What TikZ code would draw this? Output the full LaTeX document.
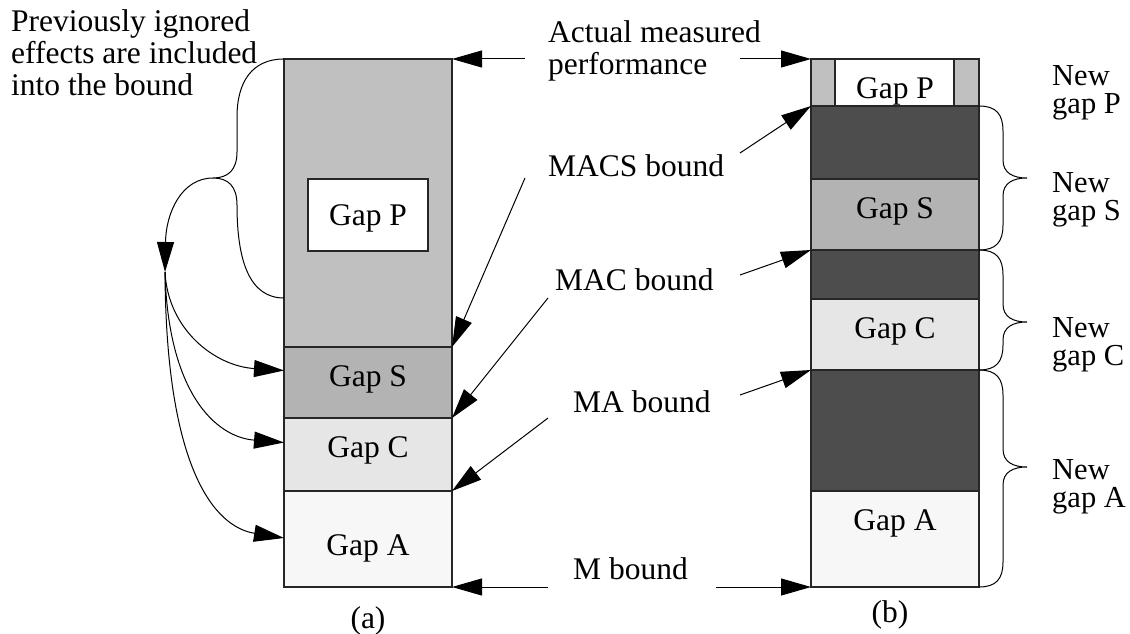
\documentclass[tikz,border=0pt]{standalone}
\usepackage{fontspec}
\setmainfont{Liberation Serif}
\usetikzlibrary{arrows.meta}
\definecolor{gP}{HTML}{C0C0C0}
\definecolor{gS}{HTML}{B3B3B3}
\definecolor{gC}{HTML}{E6E6E6}
\definecolor{gA}{HTML}{F7F7F7}
\definecolor{dk}{HTML}{4D4D4D}
\newcommand{\myrbrc}[3]{%
  \draw[brc] (979,#1) .. controls (996,#1) and (1003,#1+8) .. (1003,#1+25) -- (1003,#2-18) .. controls (1003,#2-5) and (1013,#2) .. (1027,#2) .. controls (1013,#2) and (1003,#2+5) .. (1003,#2+18) -- (1003,#3-25) .. controls (1003,#3-8) and (996,#3) .. (979,#3);}
\begin{document}
\begin{tikzpicture}[x=1pt,y=-1pt,
  txt/.style={inner sep=0pt, font=\fontsize{31.5}{31.5}\selectfont},
  rtxt/.style={inner sep=0pt, font=\fontsize{30.5}{27}\selectfont},
  seg/.style={draw=black!85, line width=1.2pt, minimum width=168pt, inner sep=0pt, outer sep=0pt},
  arr/.style={line width=1pt, -{Triangle[length=30pt,width=17pt]}},
  brc/.style={line width=1pt}]
\useasboundingbox (0,0) rectangle (1130,634);

% ---------- column (a)
\node[seg, fill=gP, minimum height=288pt] (aT) at (368,203) {};
\node[seg, fill=gS, minimum height=71pt] (aS) at (368,382.5) {};
\node[seg, fill=gC, minimum height=73pt] (aC) at (368,454.5) {};
\node[seg, fill=gA, minimum height=96pt] (aA) at (368,539) {};
\node[draw=black!85, line width=1.2pt, fill=white, minimum width=120pt, minimum height=72pt, inner sep=0pt] (aPb) at (368,215) {};
\node[txt, anchor=base] (laP) at (368,225) {Gap P};
\node[txt, anchor=base] (laS) at (368,386) {Gap S};
\node[txt, anchor=base] (laC) at (368,457) {Gap C};
\node[txt, anchor=base] (laA) at (368,555) {Gap A};
\node[txt, anchor=base] (capa) at (368,628) {(a)};

% ---------- column (b)
\node[seg, fill=gP, minimum height=47pt] (bP) at (895,82.5) {};
\node[draw=black!85, line width=1.2pt, fill=white, minimum width=119pt, minimum height=47pt, inner sep=0pt] (bPw) at (894.5,82.5) {};
\node[seg, fill=dk, minimum height=73pt] (bD1) at (895,142.5) {};
\node[seg, fill=gS, minimum height=71pt] (bS) at (895,214.5) {};
\node[seg, fill=dk, minimum height=49pt] (bD2) at (895,274.5) {};
\node[seg, fill=gC, minimum height=71pt] (bC) at (895,334.5) {};
\node[seg, fill=dk, minimum height=121pt] (bD3) at (895,430.5) {};
\node[seg, fill=gA, minimum height=96pt] (bA) at (895,539) {};
\node[txt, anchor=base] (lbP) at (895,99) {Gap P};
\node[txt, anchor=base] (lbS) at (895,218) {Gap S};
\node[txt, anchor=base] (lbC) at (895,338) {Gap C};
\node[txt, anchor=base] (lbA) at (895,530) {Gap A};
\node[txt, anchor=base] (capb) at (890,622) {(b)};

% ---------- middle labels
\node[txt, anchor=base west] (actual) at (548,43) {\begin{tabular}[t]{@{}l@{}}Actual measured\\performance\end{tabular}};
\node[txt, anchor=base west] (macs) at (548,176) {MACS bound};
\node[txt, anchor=base west] (mac) at (555,290) {MAC bound};
\node[txt, anchor=base west] (ma) at (573,412) {MA bound};
\node[txt, anchor=base west] (m) at (573,579) {M bound};

\coordinate (actL) at (525,59);  \coordinate (actR) at (740,59);
\coordinate (macsL) at (525,178); \coordinate (macsR) at (740,153);
\coordinate (macL) at (548,298); \coordinate (macR) at (740,275);
\coordinate (maL) at (548,418);  \coordinate (maR) at (740,395);
\coordinate (mL) at (548,587);   \coordinate (mR) at (716,587);

\draw[arr] (actL) -- (aT.north east);
\draw[arr] (actR) -- (bP.north west);
\draw[arr] (macsL) -- (aT.south east);
\draw[arr] (macsR) -- (bD1.north west);
\draw[arr] (macL) -- (aS.south east);
\draw[arr] (macR) -- (bS.south west);
\draw[arr] (maL) -- (aC.south east);
\draw[arr] (maR) -- (bC.south west);
\draw[arr] (mL) -- (aA.south east);
\draw[arr] (mR) -- (bA.south west);

% ---------- left text and brace
\node[txt, anchor=base west] (prev) at (11,32) {\begin{tabular}[t]{@{}l@{}}Previously ignored\\effects are included\\into the bound\end{tabular}};
\coordinate (brT) at (284,59);
\coordinate (brB) at (284,298);
\coordinate (brTip) at (213,178);
\coordinate (hub) at (165,272);
\draw[brc] (brT) .. controls (252,59) and (237,82) .. (237,117) -- (237,152) .. controls (237,170) and (228,178) .. (brTip) .. controls (228,178) and (237,186) .. (237,205) .. controls (237,262) and (250,298) .. (brB);
\draw[arr] (brTip) .. controls (182,178) and (166,212) .. (hub);
\draw[arr] (hub) .. controls (168,330) and (215,366) .. ([yshift=12pt]aS.west);
\draw[arr] (hub) .. controls (168,392) and (215,437) .. ([yshift=12pt]aC.west);
\draw[arr] (hub) .. controls (166,470) and (215,527) .. ([yshift=1pt]aA.west);

% ---------- right braces and labels
\myrbrc{106}{178}{250}
\myrbrc{250}{322}{370}
\myrbrc{370}{467}{587}
\node[rtxt, anchor=base west] (nP) at (1052,85) {\begin{tabular}[t]{@{}l@{}}New\\gap P\end{tabular}};
\node[rtxt, anchor=base west] (nS) at (1052,192) {\begin{tabular}[t]{@{}l@{}}New\\gap S\end{tabular}};
\node[rtxt, anchor=base west] (nC) at (1052,337) {\begin{tabular}[t]{@{}l@{}}New\\gap C\end{tabular}};
\node[rtxt, anchor=base west] (nA) at (1052,479) {\begin{tabular}[t]{@{}l@{}}New\\gap A\end{tabular}};
\end{tikzpicture}
\end{document}
